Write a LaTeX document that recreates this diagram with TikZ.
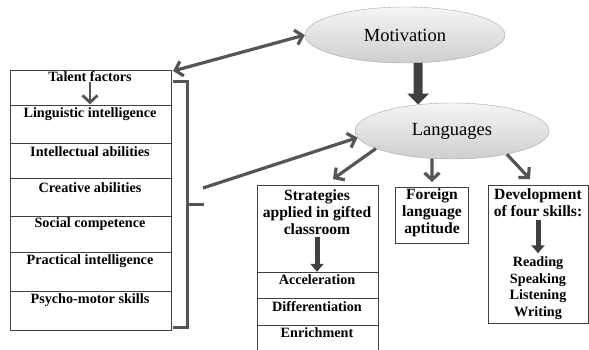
\documentclass[tikz,border=0pt]{standalone}
\usepackage{fontspec}
\setmainfont{Liberation Serif}
\usetikzlibrary{shapes.geometric, arrows.meta}
\definecolor{linegray}{HTML}{555555}
\definecolor{blockgray}{HTML}{404040}

\begin{document}
\begin{tikzpicture}[x=1pt,y=-1pt,
		bx/.style = {font=\bfseries\fontsize{14.2}{16.7}\selectfont, align=center, inner sep=0pt},
		hd/.style = {bx, font=\bfseries\fontsize{15.6}{16.8}\selectfont},
		oval/.style = {ellipse, draw=gray!70, top color=gray!8, bottom color=gray!38, font=\fontsize{18.5}{21}\selectfont},
		boxline/.style = {draw=black!75, line width=0.8pt},
		barb/.tip = {Straight Barb[length=7pt,width=15pt]},
		connarrow/.style = {draw=linegray, line width=3.2pt, -barb},
		fatarrow/.style = {draw=blockgray, line width=5pt, -{Triangle[length=8pt,width=13pt]}}]
		\useasboundingbox (0,0) rectangle (589,350);
		%%%%%%%%%%%%%
		\draw[boxline] (10,70) rectangle (171,330);
		\foreach \y in {105,143,178,216,252,291} \draw[boxline] (10,\y) -- (171,\y);
		\draw[boxline] (257,350) -- (257,185) -- (378,185) -- (378,350);
		\foreach \y in {272,298,325} \draw[boxline] (257,\y) -- (378,\y);
		\draw[boxline] (395,187) rectangle (468,243);
		\draw[boxline] (488,185) rectangle (588,323);
		%%%%%%%%%%%%%
		\node[oval, minimum width=200pt, minimum height=56pt] (m) at (405,35) {Motivation};
		\node[oval, minimum width=194pt, minimum height=56pt] (l) at (452,131) {Languages};
		\node[bx] (a) at (90,77) {Talent factors};
		\node[bx] (b) at (90,114) {Linguistic intelligence};
		\node[bx] (c) at (90,152) {Intellectual abilities};
		\node[bx] (d) at (90,188) {Creative abilities};
		\node[bx] (e) at (90,224) {Social competence};
		\node[bx] (f) at (90,261) {Practical intelligence};
		\node[bx] (g) at (90,300) {Psycho-motor skills};
		\node[hd] (s) at (317,212) {Strategies\\applied in gifted\\classroom};
		\node[bx] (s1) at (317,280) {Acceleration};
		\node[bx] (s2) at (317,307) {Differentiation};
		\node[bx] (s3) at (317,333) {Enrichment};
		\node[hd] (fl) at (432,213) {Foreign\\language\\aptitude};
		\node[hd] (dv) at (538,203) {Development\\of four skills:};
		\node[bx] (sk) at (538,288) {Reading\\Speaking\\Listening\\Writing};
		\coordinate (tf) at (173,71);
		\coordinate (br) at (203,188);
		\coordinate (to1) at (333,179);
		\coordinate (to2) at (432,182);
		\coordinate (to3) at (530,179);
		%%%%%%%%%%%%%
		\draw [connarrow, line width=2.8pt, shorten >=3pt] (a) to (b);
		\draw [connarrow, barb-barb] (tf) to (m.west);
		\draw [draw=linegray, line width=3pt] (173,82) -- (187,82) -- (187,327) -- (173,327);
		\draw [draw=linegray, line width=3pt] (187,204) -- (204,204);
		\draw [connarrow] (br) to (l.184);
		\draw [fatarrow, line width=9pt, -{Triangle[length=11pt,width=21pt]}] (m.295) to (l.142);
		\draw [connarrow] (l.193) to (to1);
		\draw [connarrow] (l.234) to (to2);
		\draw [connarrow] (l.337) to (to3);
		\draw [fatarrow, shorten <=3pt, shorten >=3pt] (s) to (s1);
		\draw [fatarrow, shorten <=3pt, shorten >=3pt] (dv) to (sk);
	\end{tikzpicture}
\end{document}
